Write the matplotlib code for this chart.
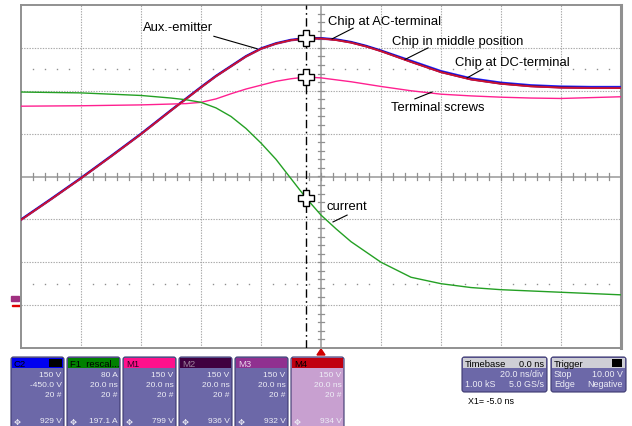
import numpy as np
import matplotlib
matplotlib.use('Agg')
import matplotlib.pyplot as plt
from matplotlib.patches import FancyBboxPatch, Rectangle, Polygon

plt.rcParams['font.family'] = ['Liberation Sans', 'DejaVu Sans']

# traces, time in ns, amplitude in divisions
time_ns = [-100, -90, -80, -70, -60, -50, -40, -35, -30, -25, -20, -15, -10, -5, 0,
           5, 10, 15, 20, 30, 40, 50, 60, 70, 80, 90, 100]
aux_emitter = [-1.00, -0.52, -0.03, 0.48, 1.00, 1.55, 2.09, 2.35, 2.58, 2.81, 2.99, 3.11, 3.19, 3.23, 3.23,
               3.20, 3.14, 3.05, 2.94, 2.70, 2.46, 2.29, 2.19, 2.13, 2.10, 2.09, 2.09]
chip_ac = [-1.01, -0.53, -0.04, 0.47, 0.99, 1.54, 2.08, 2.34, 2.57, 2.80, 2.98, 3.10, 3.18, 3.22, 3.22,
           3.19, 3.13, 3.04, 2.93, 2.68, 2.44, 2.27, 2.17, 2.11, 2.08, 2.07, 2.07]
chip_mid = [-1.02, -0.54, -0.05, 0.46, 0.98, 1.53, 2.07, 2.33, 2.56, 2.79, 2.97, 3.09, 3.17, 3.21, 3.21,
            3.18, 3.12, 3.03, 2.92, 2.67, 2.43, 2.26, 2.16, 2.10, 2.07, 2.06, 2.06]
chip_dc = [-1.01, -0.53, -0.04, 0.47, 0.99, 1.54, 2.08, 2.34, 2.57, 2.80, 2.98, 3.10, 3.18, 3.22, 3.22,
           3.18, 3.12, 3.03, 2.92, 2.67, 2.43, 2.26, 2.16, 2.10, 2.07, 2.06, 2.06]

screws_ns = [-100, -80, -60, -45, -40, -35, -30, -25, -20, -15, -10, -5, 0,
             10, 20, 30, 40, 50, 60, 70, 80, 90, 100]
terminal_screws = [1.64, 1.65, 1.67, 1.70, 1.73, 1.81, 1.93, 2.04, 2.13, 2.22, 2.28, 2.32, 2.30,
                   2.21, 2.10, 2.00, 1.92, 1.88, 1.85, 1.83, 1.82, 1.84, 1.86]

current_ns = [-100, -80, -60, -50, -45, -40, -35, -30, -25, -20, -15, -10, -5, 0,
              5, 10, 20, 30, 40, 50, 60, 70, 80, 90, 100]
current = [1.97, 1.95, 1.89, 1.83, 1.79, 1.73, 1.60, 1.40, 1.12, 0.78, 0.40, -0.05, -0.50, -0.90,
           -1.22, -1.52, -2.00, -2.35, -2.50, -2.59, -2.64, -2.67, -2.70, -2.73, -2.76]

cursor_ns = -5.0

# channel descriptor boxes
channel_names = ['C2', 'F1  rescal...', 'M1', 'M2', 'M3', 'M4']
channel_scale = ['150 V', '80 A', '150 V', '150 V', '150 V', '150 V']
channel_offset = ['-450.0 V', '20.0 ns', '20.0 ns', '20.0 ns', '20.0 ns', '20.0 ns']
channel_sweeps = ['20 #', '20 #', '20 #', '20 #', '20 #', '20 #']
channel_readout = ['929 V', '197.1 A', '799 V', '936 V', '932 V', '934 V']
header_colors = ['#0000f0', '#008000', '#ff108c', '#400040', '#903090', '#c00010']
header_text_colors = ['black', 'black', '#300020', '#9a809a', '#e8d0e8', 'black']

BODY = '#6c68a8'
EDGE = '#3c3870'
PANEL_TEXT = '#eeeef6'
GRID = '#a8a8a8'

fig = plt.figure(figsize=(6.32, 4.27), dpi=100)

# overlay in pixel units for the readout boxes
ov = fig.add_axes([0, 0, 1, 1])
ov.set_xlim(0, 632)
ov.set_ylim(427, 0)
ov.axis('off')

ax = fig.add_axes([21 / 632, 78 / 427, 600 / 632, 343 / 427])
ax.set_xlim(-100, 100)
ax.set_ylim(-4, 4)
ax.set_xticks([])
ax.set_yticks([])
for s in ax.spines.values():
    s.set_color('#909090')
    s.set_linewidth(1.4)
ax.spines['right'].set_linewidth(2.2)

# graticule
for t in range(-80, 100, 20):
    if t != 0:
        ax.axvline(t, color=GRID, lw=0.8, ls=(0, (1.2, 1.2)), zorder=1)
for d in range(-3, 4):
    if d != 0:
        ax.axhline(d, color=GRID, lw=0.8, ls=(0, (1.2, 1.2)), zorder=1)
ax.axhline(0, color=GRID, lw=1.3, zorder=1)
ax.axvline(0, color=GRID, lw=1.3, zorder=1)
for t in np.arange(-96, 100, 4):
    ax.plot([t, t], [-0.07, 0.07], color='#909090', lw=0.9, zorder=1)
for d in np.arange(-3.8, 4.0, 0.2):
    ax.plot([-1.0, 1.0], [d, d], color='#909090', lw=0.9, zorder=1)
dots = [t for t in np.arange(-96, 100, 4) if t % 20 != 0]
for d in (-2.5, 2.5):
    ax.plot(dots, [d] * len(dots), ls='none', marker='s', ms=1.0, mew=0,
            color='#909090', zorder=1)

# traces
ax.plot(time_ns, aux_emitter, color='#2020ff', lw=1.5, zorder=3)
ax.plot(time_ns, chip_ac, color='#400040', lw=1.3, zorder=3)
ax.plot(time_ns, chip_mid, color='#903090', lw=1.2, zorder=3)
ax.plot(time_ns, chip_dc, color='#d0102c', lw=1.1, zorder=4)
ax.plot(screws_ns, terminal_screws, color='#ff2090', lw=1.0, zorder=3)
ax.plot(current_ns, current, color='#24a024', lw=1.0, zorder=3)

# cursor
ax.axvline(cursor_ns, color='black', lw=1.0, ls=(0, (6, 2.5, 1.2, 2.5)), zorder=5)
for tt, yy in ((time_ns, chip_dc), (screws_ns, terminal_screws), (current_ns, current)):
    ax.plot(cursor_ns, np.interp(cursor_ns, tt, yy), marker='P', ms=12,
            mfc='white', mec='black', mew=1.0, zorder=6)

# labels with leader lines
labels = [
    ('Aux.-emitter', -59.3, 3.48, (-35.7, -21.3), (3.27, 2.98)),
    ('Chip at AC-terminal', 2.3, 3.62, (10.7, 3.7), (3.46, 3.21)),
    ('Chip in middle position', 23.7, 3.16, (35.7, 28.0), (3.0, 2.73)),
    ('Chip at DC-terminal', 44.7, 2.67, (54.0, 48.7), (2.51, 2.30)),
    ('Terminal screws', 23.3, 1.62, (31.3, 37.0), (1.81, 1.97)),
    ('current', 2.0, -0.69, (4.0, 8.7), (-1.06, -0.9)),
]
for txt, tx, ty, lx, ly in labels:
    ax.text(tx, ty, txt, fontsize=9.4, ha='left', va='center', color='black', zorder=7)
    ax.plot(lx, ly, color='black', lw=0.8, zorder=7)

# trigger position marker and ground marker
ov.add_patch(Polygon([[317, 356], [325, 356], [321, 350]], closed=True, color='#d00000'))
ov.add_patch(Rectangle((11, 297), 8, 5, color='#a03080'))
ov.add_patch(Rectangle((12, 305.5), 8, 1.6, color='#e00000'))


def panel(x0, x1, y0, y1, head, head_color, head_text_color, body=BODY):
    ov.add_patch(FancyBboxPatch((x0, y0), x1 - x0, y1 - y0,
                                boxstyle='round,pad=0,rounding_size=2.5',
                                fc=body, ec=EDGE, lw=0.8, zorder=1))
    ov.add_patch(Rectangle((x0 + 1.2, y0 + 1.2), x1 - x0 - 2.4, 10, fc=head_color,
                           ec='none', zorder=2))
    ov.text(x0 + 3, y0 + 6.4, head, fontsize=6.8, color=head_text_color,
            ha='left', va='center', zorder=4)


for i, name in enumerate(channel_names):
    x0 = 11 + i * 56
    x1 = x0 + 53
    body = '#c8a0d0' if name == 'M4' else BODY
    panel(x0, x1, 358, 432, name, header_colors[i], header_text_colors[i], body)
    rows = (channel_scale[i], channel_offset[i], channel_sweeps[i])
    for j, val in enumerate(rows):
        ov.text(x1 - 2.5, 376 + j * 10, val, fontsize=6.0, color=PANEL_TEXT,
                ha='right', va='center', zorder=4)
    ov.text(x1 - 2.5, 422, channel_readout[i], fontsize=6.0, color=PANEL_TEXT,
            ha='right', va='center', zorder=4)
    ov.text(x0 + 2.5, 422, '\u2725', fontsize=6, color=PANEL_TEXT, ha='left', va='center',
            family=['DejaVu Sans'], zorder=4)
# small status icon on C2
ov.add_patch(Rectangle((49, 360), 13, 8, fc='black', ec='none', zorder=3))

# timebase and trigger boxes
panel(462, 547, 358, 393, 'Timebase', '#cfcfd6', 'black')
ov.text(544, 364.4, '0.0 ns', fontsize=6.6, ha='right', va='center', color='black', zorder=4)
ov.text(544, 375, '20.0 ns/div', fontsize=6.4, ha='right', va='center', color=PANEL_TEXT)
ov.text(465, 385, '1.00 kS', fontsize=6.4, ha='left', va='center', color=PANEL_TEXT)
ov.text(544, 385, '5.0 GS/s', fontsize=6.4, ha='right', va='center', color=PANEL_TEXT)

panel(551, 626, 358, 393, 'Trigger', '#cfcfd6', 'black')
ov.add_patch(Rectangle((612, 360), 10, 8, fc='black', ec='none', zorder=3))
ov.text(554, 375, 'Stop', fontsize=6.4, ha='left', va='center', color=PANEL_TEXT)
ov.text(623, 375, '10.00 V', fontsize=6.4, ha='right', va='center', color=PANEL_TEXT)
ov.text(554, 385, 'Edge', fontsize=6.4, ha='left', va='center', color=PANEL_TEXT)
ov.text(623, 385, 'Negative', fontsize=6.4, ha='right', va='center', color=PANEL_TEXT)

ov.text(468, 402, 'X1= %.1f ns' % cursor_ns, fontsize=6.4, ha='left', va='center', color='black')

fig.savefig('out.png', dpi=100)
